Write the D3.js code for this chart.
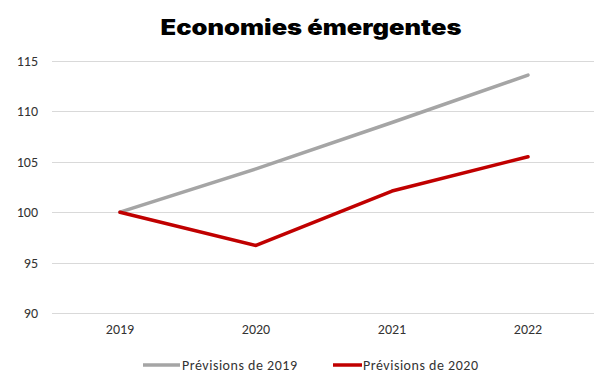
<!DOCTYPE html>
<html>
<head>
<meta charset="utf-8">
<script src="https://cdn.jsdelivr.net/npm/d3@7"></script>
<style>
  body { margin: 0; background: #fff; }
  svg { display: block; }
</style>
</head>
<body>
<svg class="chart"></svg>
<script>
// data
var years = ["2019", "2020", "2021", "2022"];
var prev2019 = [100, 104.3, 108.9, 113.6];
var prev2020 = [100, 96.7, 102.1, 105.5];
var yTicks = [90, 95, 100, 105, 110, 115];
var seriesNames = ["Prévisions de 2019", "Prévisions de 2020"];
var colors = ["#a5a5a5", "#c00000"];

var width = 594, height = 374;
var margin = {top: 61, right: -2, bottom: 61, left: 52};

var svg = d3.select(".chart")
    .attr("width", width)
    .attr("height", height);

var x = d3.scaleBand()
    .domain(years)
    .range([margin.left, width - margin.right]);

var y = d3.scaleLinear()
    .domain([90, 115])
    .range([height - margin.bottom, margin.top]);

var labelFont = "Carlito, Lato, 'Open Sans', sans-serif";

// title
svg.append("text")
    .attr("x", 311)
    .attr("y", 35)
    .attr("text-anchor", "middle")
    .style("font-family", "Inter, 'Noto Sans', sans-serif")
    .style("font-weight", 900)
    .style("font-size", "21px")
    .attr("textLength", 301)
    .attr("lengthAdjust", "spacingAndGlyphs")
    .text("Economies émergentes");

// gridlines
svg.append("g")
    .selectAll("line")
    .data(yTicks)
    .enter().append("line")
    .attr("x1", margin.left)
    .attr("x2", width)
    .attr("y1", d => Math.round(y(d)) + 0.5)
    .attr("y2", d => Math.round(y(d)) + 0.5)
    .attr("stroke", "#d9d9d9")
    .attr("stroke-width", 1);

// y axis
var yAxis = g => g
    .attr("transform", "translate(" + (margin.left - 14) + ",0)")
    .call(d3.axisLeft(y).tickValues(yTicks).tickSize(0).tickPadding(0))
    .call(g => g.select(".domain").remove());

svg.append("g").call(yAxis)
    .selectAll("text")
    .style("font-family", labelFont)
    .style("font-size", "14px")
    .attr("fill", "#333");

// x axis
var xAxis = g => g
    .attr("transform", "translate(0," + (height - margin.bottom + 11) + ")")
    .call(d3.axisBottom(x).tickSize(0).tickPadding(0))
    .call(g => g.select(".domain").remove());

svg.append("g").call(xAxis)
    .selectAll("text")
    .style("font-family", labelFont)
    .style("font-size", "14px")
    .attr("fill", "#333");

// lines
var line = d3.line()
    .x((d, i) => x(years[i]) + x.bandwidth() / 2)
    .y(d => y(d));

[prev2019, prev2020].forEach(function(s, k) {
  svg.append("path")
      .datum(s)
      .attr("fill", "none")
      .attr("stroke", colors[k])
      .attr("stroke-width", 3.5)
      .attr("stroke-linecap", "round")
      .attr("stroke-linejoin", "round")
      .attr("d", line);
});

// legend
var legendX = [143, 333];
var leg = svg.append("g")
    .selectAll("g")
    .data(seriesNames)
    .enter().append("g")
    .attr("transform", (d, i) => "translate(" + legendX[i] + ",365)");

leg.append("line")
    .attr("x1", 0)
    .attr("x2", (d, i) => i == 0 ? 37 : 29)
    .attr("y1", 0)
    .attr("y2", 0)
    .attr("stroke", (d, i) => colors[i])
    .attr("stroke-width", 3.5);

leg.append("text")
    .attr("x", (d, i) => i == 0 ? 39 : 30)
    .attr("y", 0)
    .attr("dy", ".35em")
    .style("font-family", labelFont)
    .style("font-size", "14px")
    .attr("fill", "#333")
    .attr("textLength", 115)
    .attr("lengthAdjust", "spacing")
    .text(d => d);
</script>
</body>
</html>
